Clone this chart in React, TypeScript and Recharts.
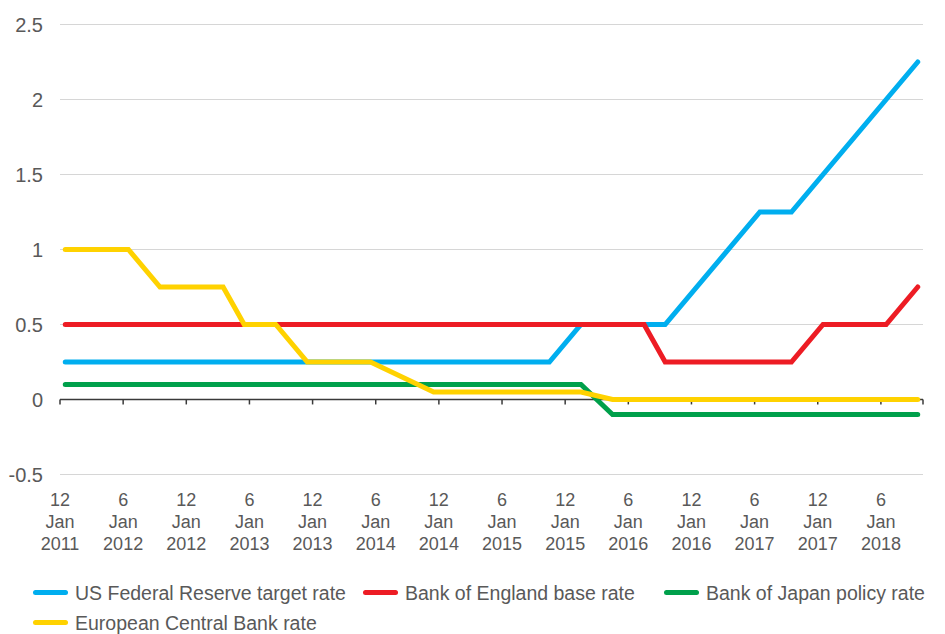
import React from "react";
import { CartesianGrid, Legend, Line, LineChart, ReferenceLine, XAxis, YAxis } from "recharts";

// month index from the first month shown; rate read at each change point
const fedMonths = [0, 46, 49, 57, 66, 69, 81];
const fedRates = [0.25, 0.25, 0.5, 0.5, 1.25, 1.25, 2.25];
const boeMonths = [0, 55, 57, 69, 72, 78, 81];
const boeRates = [0.5, 0.5, 0.25, 0.25, 0.5, 0.5, 0.75];
const bojMonths = [0, 49, 52, 81];
const bojRates = [0.1, 0.1, -0.1, -0.1];
const ecbMonths = [0, 6, 9, 15, 17, 20, 23, 29, 35, 49, 52, 81];
const ecbRates = [1, 1, 0.75, 0.75, 0.5, 0.5, 0.25, 0.25, 0.05, 0.05, 0, 0];

const tickMonths = [-0.5, 5.5, 11.5, 17.5, 23.5, 29.5, 35.5, 41.5, 47.5, 53.5, 59.5, 65.5, 71.5, 77.5];
const axisEnd = 81.5;
const tickLabels = [
  "12 Jan 2011",
  "6 Jan 2012",
  "12 Jan 2012",
  "6 Jan 2013",
  "12 Jan 2013",
  "6 Jan 2014",
  "12 Jan 2014",
  "6 Jan 2015",
  "12 Jan 2015",
  "6 Jan 2016",
  "12 Jan 2016",
  "6 Jan 2017",
  "12 Jan 2017",
  "6 Jan 2018"
];
const yTicks = [-0.5, 0, 0.5, 1, 1.5, 2, 2.5];

const toPoints = (months: number[], rates: number[]) => months.map((m, i) => ({ m, v: rates[i] }));

const series = [
  { key: "fed", name: "US Federal Reserve target rate", color: "#00aeef", data: toPoints(fedMonths, fedRates) },
  { key: "boe", name: "Bank of England base rate", color: "#ed1c24", data: toPoints(boeMonths, boeRates) },
  { key: "boj", name: "Bank of Japan policy rate", color: "#00a04b", data: toPoints(bojMonths, bojRates) },
  { key: "ecb", name: "European Central Bank rate", color: "#ffd200", data: toPoints(ecbMonths, ecbRates) }
];

const font = "'Liberation Sans', Arial, Helvetica, sans-serif";
const textColor = "#595959";
const legendWidths = [330, 301, 265, 330];

const MonthTick = (props: any) => {
  const { x, y, payload } = props;
  const i = tickMonths.indexOf(payload.value);
  const lines = (tickLabels[i] || "").split(" ");
  return (
    <text x={x} y={y} textAnchor="middle" fill={textColor} fontSize={18} fontFamily={font}>
      {lines.map((l, k) => (
        <tspan key={k} x={x} dy={k === 0 ? 31.5 : 22}>
          {l}
        </tspan>
      ))}
    </text>
  );
};

const renderLegend = () => (
  <div
    style={{
      height: 99.5,
      boxSizing: "border-box",
      paddingTop: 49,
      paddingLeft: 25,
      display: "flex",
      flexWrap: "wrap",
      alignContent: "flex-start",
      rowGap: 12,
      fontFamily: font,
      fontSize: 19.5,
      color: textColor
    }}
  >
    {series.map((s, i) => (
      <div
        key={s.key}
        style={{ width: legendWidths[i], height: 18, display: "flex", alignItems: "center", whiteSpace: "nowrap" }}
      >
        <span style={{ width: 35, height: 5, borderRadius: 3, background: s.color, marginRight: 7, flexShrink: 0 }} />
        <span style={{ lineHeight: "18px" }}>{s.name}</span>
      </div>
    ))}
  </div>
);

export default function App() {
  return (
    <div style={{ width: 929, height: 626, fontFamily: font }}>
      <style>{"body { overflow: hidden; }"}</style>
      <LineChart width={929} height={626} margin={{ top: 16.5, right: 14, bottom: 0, left: 0 }}>
        <CartesianGrid vertical={false} stroke="#d6d6d6" strokeWidth={1.2} />
        <XAxis
          type="number"
          dataKey="m"
          domain={[-0.5, axisEnd]}
          allowDataOverflow
          ticks={tickMonths}
          interval={0}
          axisLine={false}
          tickLine={false}
          tickSize={0}
          tickMargin={0}
          height={60}
          tick={<MonthTick />}
        />
        <YAxis
          type="number"
          domain={[-0.5, 2.5]}
          ticks={yTicks}
          interval={0}
          width={52}
          axisLine={false}
          tickLine={false}
          tickSize={0}
          tickMargin={17}
          tick={{ fill: textColor, fontSize: 20, fontFamily: font }}
        />
        <ReferenceLine y={0} stroke="#3a3a3a" strokeWidth={1.5} />
        {[...tickMonths, axisEnd].map((m) => (
          <ReferenceLine
            key={`tick-${m}`}
            segment={[
              { x: m, y: 0 },
              { x: m, y: -0.033 }
            ]}
            stroke="#3a3a3a"
            strokeWidth={1.5}
          />
        ))}
        {series.map((s) => (
          <Line
            key={s.key}
            data={s.data}
            dataKey="v"
            name={s.name}
            type="linear"
            stroke={s.color}
            strokeWidth={5}
            strokeLinecap="round"
            dot={false}
            activeDot={false}
            isAnimationActive={false}
          />
        ))}
        <Legend verticalAlign="bottom" align="left" wrapperStyle={{ left: 0, width: 929 }} content={renderLegend} />
      </LineChart>
    </div>
  );
}
